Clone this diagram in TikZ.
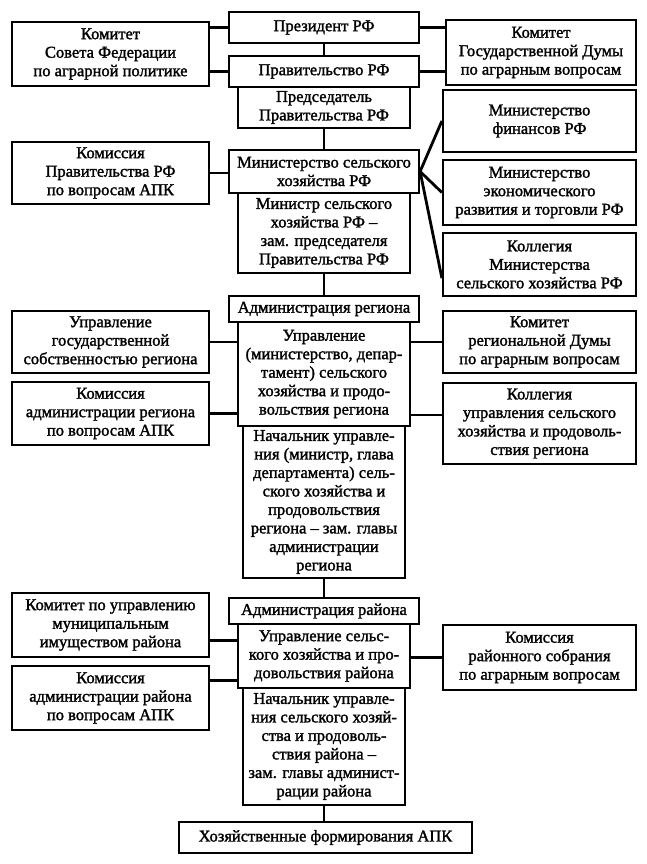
\documentclass[tikz,border=0pt]{standalone}
\usepackage{fontspec}
\setmainfont{Liberation Serif}[FakeBold=1.6]
\usepackage{tikz}
\usetikzlibrary{calc}

\begin{document}
\begin{tikzpicture}[x=1pt,y=-1pt,
  box/.style={draw,line width=2.2pt,align=center,inner sep=0pt,
    font=\fontsize{16.5}{18.5}\selectfont},
  link/.style={line width=2.8pt}]
  \useasboundingbox (0,0) rectangle (646,864);
  % federal level
  \node[box,minimum width=190pt,minimum height=31pt] (pres) at (324,27.5) {Президент РФ};
  \node[box,minimum width=190pt,minimum height=31pt] (gov) at (324,71.5) {Правительство РФ};
  \node[box,minimum width=172pt,minimum height=41pt] (pred) at (324,107.5) {Председатель\\Правительства РФ};
  \node[box,minimum width=190pt,minimum height=43pt] (minsel) at (324,171.5) {Министерство сельского\\хозяйства РФ};
  \node[box,minimum width=172pt,minimum height=80pt] (minister) at (324,233) {Министр сельского\\хозяйства РФ –\\зам. председателя\\Правительства РФ};
  \node[box,minimum width=197pt,minimum height=64pt] (komSF) at (110.5,54) {Комитет\\Совета Федерации\\по аграрной политике};
  \node[box,minimum width=197pt,minimum height=62pt] (komGov) at (110.5,173) {Комиссия\\Правительства РФ\\по вопросам АПК};
  \node[box,minimum width=190pt,minimum height=65pt] (komGD) at (541,52.5) {Комитет\\Государственной Думы\\по аграрным вопросам};
  \node[box,minimum width=193pt,minimum height=62pt] (minfin) at (539.5,121) {Министерство\\финансов РФ};
  \node[box,minimum width=193pt,minimum height=65pt] (minecon) at (539.5,192.5) {Министерство\\экономического\\развития и торговли РФ};
  \node[box,minimum width=193pt,minimum height=63pt] (kollMSH) at (539.5,264.5) {Коллегия\\Министерства\\сельского хозяйства РФ};
  % region level
  \node[box,minimum width=190pt,minimum height=26pt] (admreg) at (324,309) {Администрация региона};
  \node[box,minimum width=172pt,minimum height=104pt] (upreg) at (324,374) {Управление\\(министерство, депар-\\тамент) сельского\\хозяйства и продо-\\вольствия региона};
  \node[box,minimum width=162pt,minimum height=152pt] (nachreg) at (324,502) {Начальник управле-\\ния (министр, глава\\департамента) сель-\\ского хозяйства и\\продовольствия\\региона – зам. главы\\администрации\\региона};
  \node[box,minimum width=197pt,minimum height=62pt] (upGS) at (110.5,342) {Управление\\государственной\\собственностью региона};
  \node[box,minimum width=197pt,minimum height=63pt] (komAR) at (110.5,413.5) {Комиссия\\администрации региона\\по вопросам АПК};
  \node[box,minimum width=193pt,minimum height=62pt] (komRD) at (539.5,342) {Комитет\\региональной Думы\\по аграрным вопросам};
  \node[box,minimum width=193pt,minimum height=81pt] (kollUp) at (539.5,423.5) {Коллегия\\управления сельского\\хозяйства и продоволь-\\ствия региона};
  % district level
  \node[box,minimum width=190pt,minimum height=26pt] (admraj) at (324,611) {Администрация района};
  \node[box,minimum width=172pt,minimum height=64pt] (upraj) at (324,656) {Управление сельс-\\кого хозяйства и про-\\довольствия района};
  \node[box,minimum width=162pt,minimum height=117pt] (nachraj) at (324,746.5) {Начальник управле-\\ния сельского хозяй-\\ства и продоволь-\\ствия района –\\зам. главы админист-\\рации района};
  \node[box,minimum width=197pt,minimum height=64pt] (komMun) at (110.5,625) {Комитет по управлению\\муниципальным\\имуществом района};
  \node[box,minimum width=197pt,minimum height=64pt] (komAraj) at (110.5,698) {Комиссия\\администрации района\\по вопросам АПК};
  \node[box,minimum width=193pt,minimum height=65pt] (komRS) at (539.5,657.5) {Комиссия\\районного собрания\\по аграрным вопросам};
  \node[box,minimum width=293pt,minimum height=31pt] (hoz) at (325.5,837.5) {Хозяйственные формирования АПК};

  \draw[link] (pres.south) -- (gov.north);
  \draw[link] (pred.south) -- (minsel.north);
  \draw[link] (minister.south) -- (admreg.north);
  \draw[link] (nachreg.south) -- (admraj.north);
  \draw[link] (nachraj.south) -- (nachraj.south |- hoz.north);
  \draw[link] (komSF.east |- pres.west) -- (pres.west);
  \draw[link] (komSF.east |- gov.west) -- (gov.west);
  \draw[link] (pres.east) -- (pres.east -| komGD.west);
  \draw[link] (gov.east) -- (gov.east -| komGD.west);
  \draw[link] (komGov.east) -- (komGov.east -| minsel.west);
  \draw[link] (minsel.east) -- (minfin.west);
  \draw[link] (minsel.east) -- (minecon.west);
  \draw[link] (minsel.east) -- (kollMSH.188);
  \draw[link] (upGS.east) -- (upGS.east -| upreg.west);
  \draw[link] (komAR.east) -- (komAR.east -| upreg.west);
  \draw[link] (komRD.west) -- (komRD.west -| upreg.east);
  \draw[link] (kollUp.175) -- (kollUp.175 -| upreg.east);
  \draw[link] (komMun.-9) -- (komMun.-9 -| upraj.west);
  \draw[link] (komAraj.10) -- (komAraj.10 -| upraj.west);
  \draw[link] (komRS.west) -- (komRS.west -| upraj.east);
\end{tikzpicture}
\end{document}
